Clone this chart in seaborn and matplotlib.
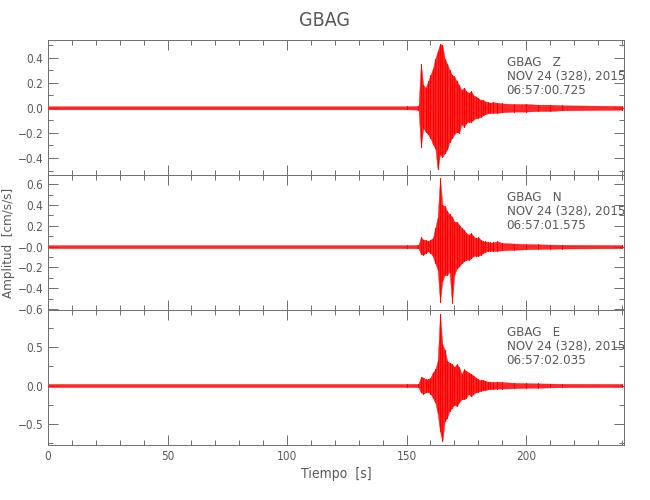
import matplotlib
matplotlib.use("Agg")
import matplotlib.pyplot as plt
from matplotlib.ticker import MultipleLocator, FixedLocator, FixedFormatter
import pandas as pd
import seaborn as sns

# envelope of each trace (time in s, amplitude in cm/s/s)
t_env = [0, 150, 155, 156, 157, 158, 159, 160, 161, 162, 163, 164, 165,
         166, 167, 168, 169, 170, 171, 172, 173, 174, 175, 176, 177, 178,
         179, 180, 181, 182, 183, 184, 185, 186, 188, 190, 195, 200, 205,
         210, 215, 240]

z_up = [0.012, 0.012, 0.015,
        0.35, 0.18, 0.16, 0.21, 0.26, 0.31, 0.39, 0.45, 0.51, 0.50,
        0.39, 0.35, 0.30, 0.26, 0.25, 0.21, 0.18, 0.14, 0.16, 0.13,
        0.12, 0.13, 0.10, 0.09, 0.077, 0.063, 0.063, 0.05, 0.045, 0.04, 0.045,
        0.04, 0.035, 0.03, 0.03, 0.025, 0.025, 0.02, 0.015]
z_lo = [-0.012, -0.012, -0.015,
        -0.31, -0.16, -0.19, -0.21, -0.24, -0.29, -0.32, -0.49, -0.37, -0.39,
        -0.36, -0.33, -0.27, -0.24, -0.21, -0.19, -0.20, -0.13, -0.15, -0.12,
        -0.11, -0.11, -0.095, -0.08, -0.08, -0.07, -0.06, -0.05, -0.045, -0.04, -0.04,
        -0.04, -0.035, -0.03, -0.03, -0.025, -0.025, -0.02, -0.015]

n_up = [0.014, 0.014, 0.016,
        0.09, 0.067, 0.067, 0.05, 0.067, 0.08, 0.18, 0.28, 0.66, 0.40,
        0.39, 0.34, 0.31, 0.29, 0.24, 0.24, 0.21, 0.18, 0.16, 0.13,
        0.115, 0.13, 0.10, 0.08, 0.09, 0.067, 0.05, 0.05, 0.045, 0.04, 0.04,
        0.05, 0.035, 0.03, 0.025, 0.022, 0.02, 0.018, 0.015]
n_lo = [-0.014, -0.014, -0.016,
        -0.07, -0.077, -0.06, -0.045, -0.06, -0.09, -0.16, -0.22, -0.53, -0.33,
        -0.27, -0.27, -0.24, -0.54, -0.27, -0.21, -0.19, -0.16, -0.14, -0.125,
        -0.125, -0.11, -0.09, -0.087, -0.09, -0.077, -0.06, -0.05, -0.04, -0.04, -0.04,
        -0.04, -0.035, -0.03, -0.025, -0.022, -0.02, -0.018, -0.015]

e_up = [0.02, 0.02, 0.022,
        0.11, 0.105, 0.08, 0.08, 0.105, 0.17, 0.21, 0.32, 0.94, 0.54,
        0.46, 0.32, 0.30, 0.28, 0.24, 0.28, 0.24, 0.15, 0.21, 0.19,
        0.17, 0.15, 0.13, 0.105, 0.08, 0.07, 0.07, 0.06, 0.05, 0.05, 0.045,
        0.05, 0.045, 0.035, 0.03, 0.028, 0.025, 0.022, 0.02]
e_lo = [-0.02, -0.02, -0.022,
        -0.09, -0.105, -0.09, -0.08, -0.11, -0.16, -0.22, -0.36, -0.60, -0.73,
        -0.46, -0.42, -0.33, -0.29, -0.25, -0.27, -0.22, -0.18, -0.18, -0.16,
        -0.11, -0.14, -0.11, -0.09, -0.08, -0.07, -0.06, -0.06, -0.05, -0.05, -0.045,
        -0.04, -0.04, -0.035, -0.03, -0.028, -0.025, -0.022, -0.02]

components = ["Z", "N", "E"]
start_times = ["06:57:00.725", "06:57:01.575", "06:57:02.035"]
date_label = "NOV 24 (328), 2015"
station = "GBAG"

ylims = [(-0.535, 0.54), (-0.61, 0.69), (-0.78, 0.99)]
ytick_vals = [[-0.4, -0.2, 0.0, 0.2, 0.4],
              [-0.6, -0.4, -0.2, 0.0, 0.2, 0.4, 0.6],
              [-0.5, 0.0, 0.5]]
ytick_text = [["\u22120.4", "\u22120.2", "0.0", "0.2", "0.4"],
              ["\u22120.6", "\u22120.4", "\u22120.2", "\u22120.0", "0.2", "0.4", "0.6"],
              ["\u22120.5", "0.0", "0.5"]]
yminor = [0.1, 0.1, 0.25]

sns.set_style("ticks")
plt.rcParams["font.family"] = ["DejaVu Sans"]
plt.rcParams["font.stretch"] = "condensed"
gray = "#6e6e6e"
txt = "#595959"

fig = plt.figure(figsize=(6.5, 5), dpi=100)
bottoms = [0.65, 0.38, 0.11]
traces = [(z_up, z_lo), (n_up, n_lo), (e_up, e_lo)]

for i, (up, lo) in enumerate(traces):
    ax = fig.add_axes([0.074, bottoms[i], 0.886, 0.27])
    # one vertical stroke per sample, from lower to upper envelope
    xs, ys, ids = [], [], []
    for k, (t, u, l) in enumerate(zip(t_env, up, lo)):
        xs += [t, t]
        ys += [u, l]
        ids += [k, k]
    df = pd.DataFrame({"t": xs, "a": ys, "k": ids})
    ax.fill_between(t_env, lo, up, color="#ff1010", alpha=0.9, linewidth=0.3,
                    edgecolor="#ff0000")
    sns.lineplot(data=df, x="t", y="a", units="k", ax=ax, sort=False,
                 estimator=None, color="#ff0000", linewidth=0.8)
    ax.set_xlim(0, 241)
    ax.set_ylim(*ylims[i])
    ax.xaxis.set_major_locator(MultipleLocator(50))
    ax.xaxis.set_minor_locator(MultipleLocator(10))
    ax.yaxis.set_major_locator(FixedLocator(ytick_vals[i]))
    ax.yaxis.set_major_formatter(FixedFormatter(ytick_text[i]))
    ax.yaxis.set_minor_locator(MultipleLocator(yminor[i]))
    ax.tick_params(which="both", direction="in", top=True, right=True,
                   color=gray, labelcolor=txt, labelsize=8.5, width=0.7)
    ax.tick_params(which="major", length=7)
    ax.tick_params(which="minor", length=3.5)
    for s in ax.spines.values():
        s.set_color(gray)
        s.set_linewidth(0.7)
    ax.set_xlabel("")
    ax.set_ylabel("")
    if i < 2:
        ax.set_xticklabels([])
    else:
        ax.set_xlabel("Tiempo  [s]", color=txt, fontsize=10, labelpad=3)
    if i == 1:
        ax.set_ylabel("Amplitud  [cm/s/s]", color=txt, fontsize=9.5)
        ax.yaxis.set_label_coords(-0.058, 0.5)
    info = f"{station}   {components[i]}\n{date_label}\n{start_times[i]}"
    ax.text(0.796, 0.885, info, transform=ax.transAxes, color=txt, fontsize=9.5,
            va="top", ha="left", linespacing=1.12)

fig.text(0.5, 0.958, station, ha="center", va="center", color=txt, fontsize=14)

plt.savefig("out.png", dpi=100)
plt.close()
